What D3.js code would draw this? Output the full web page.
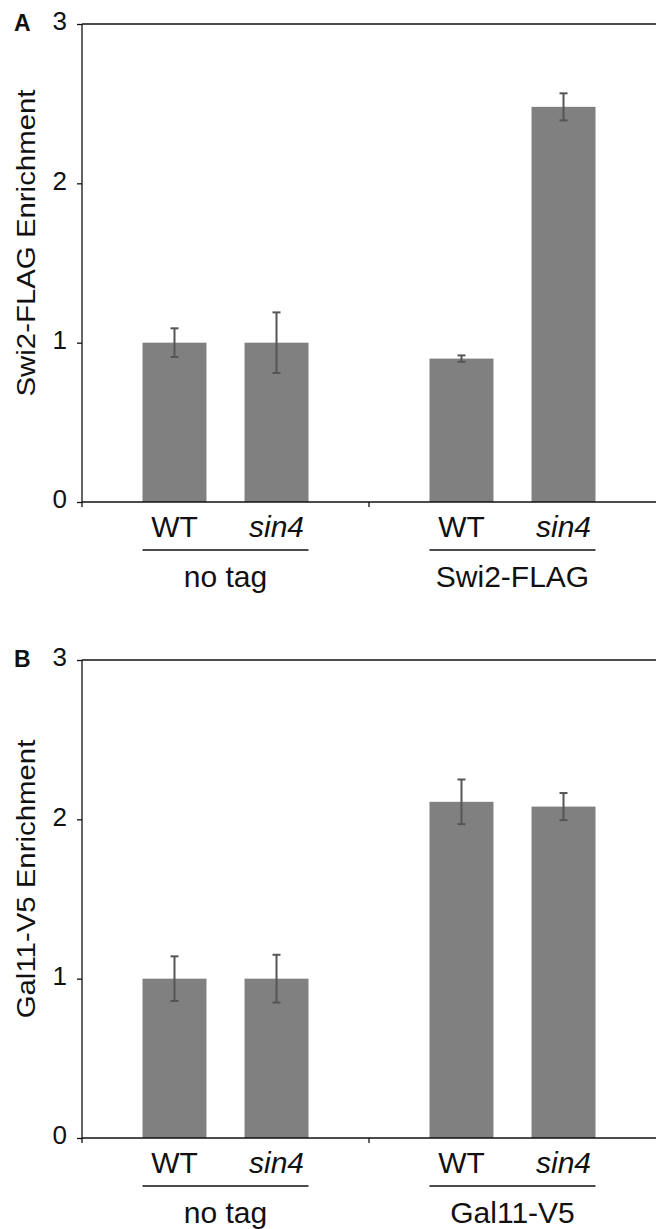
<!DOCTYPE html>
<html>
<head>
<meta charset="utf-8">
<script src="https://cdn.jsdelivr.net/npm/d3@7"></script>
<style>
  body { margin: 0; background: #fff; }
  svg { display: block; font-family: "Liberation Sans", Arial, sans-serif; }
</style>
</head>
<body>
<div id="chart"></div>
<script>
// data
const strains = ["WT", "sin4"];
const yTicks = [0, 1, 2, 3];

const groupsA = ["no tag", "Swi2-FLAG"];
const swi2Values = [1.00, 1.00, 0.90, 2.48];
const swi2Errors = [0.09, 0.19, 0.02, 0.085];

const groupsB = ["no tag", "Gal11-V5"];
const gal11Values = [1.00, 1.00, 2.11, 2.08];
const gal11Errors = [0.14, 0.15, 0.14, 0.085];

const W = 656, H = 1229;
const svg = d3.select("#chart").append("svg")
    .attr("width", W)
    .attr("height", H);

function drawPanel(opts) {
    const { letter, top, bottom, groups, values, errors, yLabel } = opts;
    const left = 82, right = W;
    const g = svg.append("g");

    const y = d3.scaleLinear().domain([0, 3]).range([bottom, top]);

    const x0 = d3.scaleBand()
        .domain(groups)
        .range([left, right])
        .padding(0);

    const x1 = d3.scaleBand()
        .domain(strains)
        .range([0, x0.bandwidth()])
        .paddingInner(0.373)
        .paddingOuter(0.593);

    const rows = [];
    groups.forEach((grp, gi) => {
        strains.forEach((s, si) => {
            const k = gi * strains.length + si;
            rows.push({ grp, s, v: values[k], e: errors[k] });
        });
    });

    // bars
    g.selectAll("rect.bar")
        .data(rows)
        .join("rect")
        .attr("class", "bar")
        .attr("x", d => x0(d.grp) + x1(d.s))
        .attr("y", d => y(d.v))
        .attr("width", x1.bandwidth())
        .attr("height", d => y(0) - y(d.v))
        .attr("fill", "#808080");

    // error bars
    const cx = d => x0(d.grp) + x1(d.s) + x1.bandwidth() / 2;
    const eb = g.selectAll("g.err").data(rows).join("g").attr("class", "err")
        .attr("stroke", "#555")
        .attr("stroke-width", 2);
    eb.append("line")
        .attr("x1", cx).attr("x2", cx)
        .attr("y1", d => y(d.v + d.e)).attr("y2", d => y(d.v - d.e));
    eb.append("line")
        .attr("x1", d => cx(d) - 4).attr("x2", d => cx(d) + 4)
        .attr("y1", d => y(d.v + d.e)).attr("y2", d => y(d.v + d.e));
    eb.append("line")
        .attr("x1", d => cx(d) - 4).attr("x2", d => cx(d) + 4)
        .attr("y1", d => y(d.v - d.e)).attr("y2", d => y(d.v - d.e));

    // y axis
    const yAxis = g.append("g")
        .attr("transform", `translate(${left},0)`)
        .call(d3.axisLeft(y).tickValues(yTicks).tickSize(5).tickPadding(10).tickFormat(d3.format("d")));
    yAxis.select(".domain").attr("stroke", "#111").attr("stroke-width", 1.3)
        .attr("d", `M0,${top}V${bottom + 5}`);
    yAxis.selectAll(".tick line").attr("stroke", "#111").attr("stroke-width", 1.3);
    yAxis.selectAll(".tick text")
        .attr("font-size", 26)
        .attr("font-family", "Liberation Sans, Arial, sans-serif")
        .attr("fill", "#111")
        .attr("dy", "0.22em");

    // top frame line
    g.append("line")
        .attr("x1", left).attr("x2", right)
        .attr("y1", top).attr("y2", top)
        .attr("stroke", "#111").attr("stroke-width", 1.3);

    // x axis line with divider ticks
    g.append("line")
        .attr("x1", left).attr("x2", right)
        .attr("y1", bottom).attr("y2", bottom)
        .attr("stroke", "#111").attr("stroke-width", 1.3);
    groups.slice(1).forEach(grp => {
        g.append("line")
            .attr("x1", x0(grp)).attr("x2", x0(grp))
            .attr("y1", bottom).attr("y2", bottom + 5)
            .attr("stroke", "#111").attr("stroke-width", 1.3);
    });

    // strain labels
    g.selectAll("text.strain")
        .data(rows)
        .join("text")
        .attr("class", "strain")
        .attr("x", cx)
        .attr("y", bottom + 35)
        .attr("text-anchor", "middle")
        .attr("font-size", 30)
        .attr("font-style", d => d.s === "WT" ? "normal" : "italic")
        .attr("fill", "#111")
        .text(d => d.s);

    // group underline and label
    groups.forEach(grp => {
        const a = x0(grp) + x1(strains[0]);
        const b = x0(grp) + x1(strains[strains.length - 1]) + x1.bandwidth();
        g.append("line")
            .attr("x1", a).attr("x2", b)
            .attr("y1", bottom + 48).attr("y2", bottom + 48)
            .attr("stroke", "#111").attr("stroke-width", 1.6);
        g.append("text")
            .attr("x", x0(grp) + x0.bandwidth() / 2)
            .attr("y", bottom + 85)
            .attr("text-anchor", "middle")
            .attr("font-size", 30)
            .attr("fill", "#111")
            .text(grp);
    });

    // y label
    const yl = g.append("text")
        .attr("transform", `translate(35,${(top + bottom) / 2 - 20}) rotate(-90)`)
        .attr("text-anchor", "middle")
        .attr("font-size", 26)
        .attr("fill", "#111")
        .text(yLabel);
    const natural = yl.node().getComputedTextLength();
    yl.attr("textLength", natural * 1.13).attr("lengthAdjust", "spacingAndGlyphs");

    // panel letter
    g.append("text")
        .attr("x", 14)
        .attr("y", top + 7)
        .attr("font-size", 23)
        .attr("font-weight", "bold")
        .attr("fill", "#111")
        .text(letter);
}

drawPanel({ letter: "A", top: 24, bottom: 502, groups: groupsA,
    values: swi2Values, errors: swi2Errors, yLabel: "Swi2-FLAG Enrichment" });
drawPanel({ letter: "B", top: 660, bottom: 1138, groups: groupsB,
    values: gal11Values, errors: gal11Errors, yLabel: "Gal11-V5 Enrichment" });
</script>
</body>
</html>
